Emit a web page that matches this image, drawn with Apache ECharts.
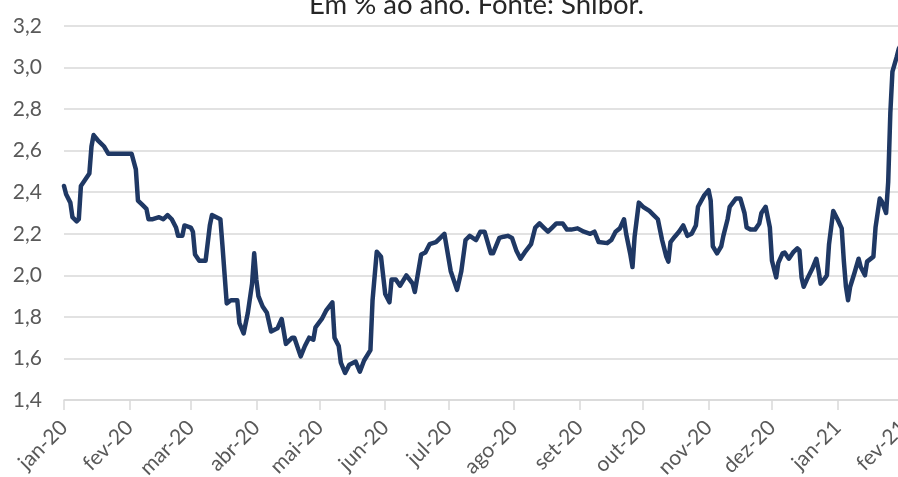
<!DOCTYPE html>
<html>
<head>
<meta charset="utf-8">
<script src="https://cdn.jsdelivr.net/npm/echarts@6/dist/echarts.min.js"></script>
<style>
html,body{margin:0;padding:0;background:#fff;}
#chart{width:898px;height:477px;}
</style>
</head>
<body>
<div id="chart"></div>
<script>
const titleText = 'Em % ao ano. Fonte: Shibor.';
const monthNames = ['jan','fev','mar','abr','mai','jun','jul','ago','set','out','nov','dez'];
const yTicks = [1.4, 1.6, 1.8, 2.0, 2.2, 2.4, 2.6, 2.8, 3.0, 3.2];

const dates = [
'2020-01-01','2020-01-02','2020-01-04','2020-01-05','2020-01-07','2020-01-08','2020-01-09','2020-01-11','2020-01-13','2020-01-14',
'2020-01-15','2020-01-17','2020-01-20','2020-01-22','2020-01-27','2020-02-02','2020-02-04','2020-02-05','2020-02-07','2020-02-09',
'2020-02-10','2020-02-12','2020-02-15','2020-02-17','2020-02-19','2020-02-21','2020-02-23','2020-02-24','2020-02-26','2020-02-27',
'2020-03-01','2020-03-02','2020-03-03','2020-03-05','2020-03-08','2020-03-10','2020-03-11','2020-03-15','2020-03-16','2020-03-18',
'2020-03-20','2020-03-23','2020-03-24','2020-03-26','2020-03-28','2020-03-30','2020-03-31','2020-04-01','2020-04-02','2020-04-04',
'2020-04-06','2020-04-08','2020-04-11','2020-04-13','2020-04-15','2020-04-18','2020-04-19','2020-04-22','2020-04-24','2020-04-26',
'2020-04-28','2020-04-29','2020-05-02','2020-05-04','2020-05-07','2020-05-08','2020-05-10','2020-05-11','2020-05-13','2020-05-15',
'2020-05-18','2020-05-20','2020-05-22','2020-05-25','2020-05-26','2020-05-28','2020-05-30','2020-06-01','2020-06-03','2020-06-04',
'2020-06-06','2020-06-08','2020-06-11','2020-06-14','2020-06-15','2020-06-18','2020-06-20','2020-06-22','2020-06-25','2020-06-29',
'2020-07-02','2020-07-05','2020-07-07','2020-07-09','2020-07-11','2020-07-14','2020-07-16','2020-07-18','2020-07-21','2020-07-22',
'2020-07-25','2020-07-27','2020-07-29','2020-07-31','2020-08-02','2020-08-04','2020-08-06','2020-08-09','2020-08-11','2020-08-13',
'2020-08-15','2020-08-17','2020-08-19','2020-08-21','2020-08-24','2020-08-26','2020-08-28','2020-08-31','2020-09-03','2020-09-06',
'2020-09-08','2020-09-10','2020-09-14','2020-09-16','2020-09-18','2020-09-20','2020-09-22','2020-09-23','2020-09-25','2020-09-26',
'2020-09-27','2020-09-29','2020-10-01','2020-10-04','2020-10-06','2020-10-08','2020-10-10','2020-10-12','2020-10-13','2020-10-14',
'2020-10-16','2020-10-18','2020-10-20','2020-10-22','2020-10-24','2020-10-26','2020-10-27','2020-10-30','2020-11-01','2020-11-02',
'2020-11-03','2020-11-05','2020-11-07','2020-11-08','2020-11-10','2020-11-11','2020-11-14','2020-11-16','2020-11-18','2020-11-19',
'2020-11-21','2020-11-23','2020-11-25','2020-11-26','2020-11-28','2020-11-30','2020-12-01','2020-12-03','2020-12-04','2020-12-06',
'2020-12-07','2020-12-09','2020-12-11','2020-12-13','2020-12-14','2020-12-15','2020-12-16','2020-12-18','2020-12-20','2020-12-22',
'2020-12-23','2020-12-24','2020-12-26','2020-12-27','2020-12-28','2020-12-30','2021-01-01','2021-01-03','2021-01-04','2021-01-05',
'2021-01-06','2021-01-07','2021-01-09','2021-01-11','2021-01-12','2021-01-14','2021-01-15','2021-01-18','2021-01-19','2021-01-21',
'2021-01-22','2021-01-24','2021-01-25','2021-01-26','2021-01-27','2021-01-29','2021-01-30','2021-01-31'
];

const shibor = [
2.43,2.39,2.35,2.28,2.26,2.27,2.43,2.46,2.49,2.62,
2.675,2.65,2.62,2.585,2.585,2.585,2.51,2.36,2.34,2.32,
2.27,2.27,2.28,2.27,2.29,2.27,2.23,2.19,2.19,2.24,
2.23,2.21,2.10,2.07,2.07,2.24,2.29,2.27,2.14,1.865,
1.88,1.88,1.77,1.72,1.82,1.96,2.106,1.98,1.90,1.85,
1.82,1.73,1.745,1.79,1.67,1.70,1.70,1.61,1.66,1.70,
1.69,1.75,1.79,1.83,1.87,1.70,1.66,1.58,1.53,1.57,
1.585,1.536,1.59,1.64,1.88,2.114,2.09,1.91,1.87,1.98,
1.98,1.95,2.00,1.96,1.92,2.10,2.11,2.15,2.16,2.20,
2.02,1.93,2.02,2.17,2.19,2.17,2.21,2.21,2.106,2.106,
2.18,2.186,2.19,2.18,2.12,2.08,2.11,2.15,2.23,2.25,
2.23,2.21,2.23,2.25,2.25,2.22,2.22,2.226,2.21,2.20,
2.21,2.16,2.155,2.17,2.21,2.226,2.27,2.20,2.10,2.04,
2.186,2.35,2.33,2.31,2.29,2.27,2.17,2.09,2.066,2.16,
2.186,2.21,2.24,2.19,2.20,2.24,2.33,2.386,2.41,2.36,
2.14,2.106,2.14,2.19,2.27,2.33,2.37,2.37,2.30,2.23,
2.22,2.22,2.25,2.30,2.33,2.23,2.07,1.99,2.06,2.106,
2.11,2.08,2.11,2.13,2.12,1.99,1.945,1.99,2.03,2.08,
2.026,1.96,1.985,2.00,2.15,2.31,2.27,2.226,2.07,1.945,
1.88,1.945,2.01,2.08,2.04,2.00,2.066,2.09,2.23,2.37,
2.355,2.30,2.45,2.78,2.98,3.05,3.09,3.11
];

const seriesData = dates.map((d, i) => [d, shibor[i]]);
const DAY = 24 * 3600 * 1000;

const chart = echarts.init(document.getElementById('chart'), null, {renderer: 'canvas'});
chart.setOption({
  animation: false,
  backgroundColor: '#ffffff',
  title: {
    text: titleText,
    left: 304,
    top: -14,
    textStyle: {fontFamily: 'Lato', fontSize: 27.5, fontWeight: 'normal', color: '#262626'}
  },
  grid: {left: 64, right: -5, top: 26, bottom: 77, containLabel: false, outerBoundsMode: 'none'},
  xAxis: {
    type: 'time',
    min: '2020-01-01',
    max: '2021-02-01',
    splitNumber: 13,
    minInterval: 28 * DAY,
    maxInterval: 31 * DAY,
    axisLine: {show: true, lineStyle: {color: '#d9d9d9', width: 1.5}},
    axisTick: {show: true, length: 10, lineStyle: {color: '#d9d9d9', width: 1.5}},
    splitLine: {show: false},
    axisLabel: {
      rotate: 45,
      margin: 24,
      showMinLabel: true,
      showMaxLabel: true,
      hideOverlap: false,
      fontFamily: 'Lato',
      fontSize: 21,
      color: '#595959',
      formatter: function (val) {
        const d = new Date(val);
        return monthNames[d.getMonth()] + '-' + String(d.getFullYear()).slice(2);
      }
    }
  },
  yAxis: {
    type: 'value',
    min: yTicks[0],
    max: yTicks[yTicks.length - 1],
    interval: 0.2,
    axisLine: {show: false},
    axisTick: {show: false},
    splitLine: {show: true, lineStyle: {color: '#d9d9d9', width: 1.5}},
    axisLabel: {
      margin: 22,
      fontFamily: 'Lato',
      fontSize: 21,
      color: '#595959',
      formatter: function (v) { return v.toFixed(1).replace('.', ','); }
    }
  },
  series: [{
    type: 'line',
    data: seriesData,
    showSymbol: false,
    symbol: 'none',
    smooth: false,
    clip: true,
    lineStyle: {color: '#1f3864', width: 4.5, join: 'round', cap: 'round'}
  }]
});
</script>
</body>
</html>
